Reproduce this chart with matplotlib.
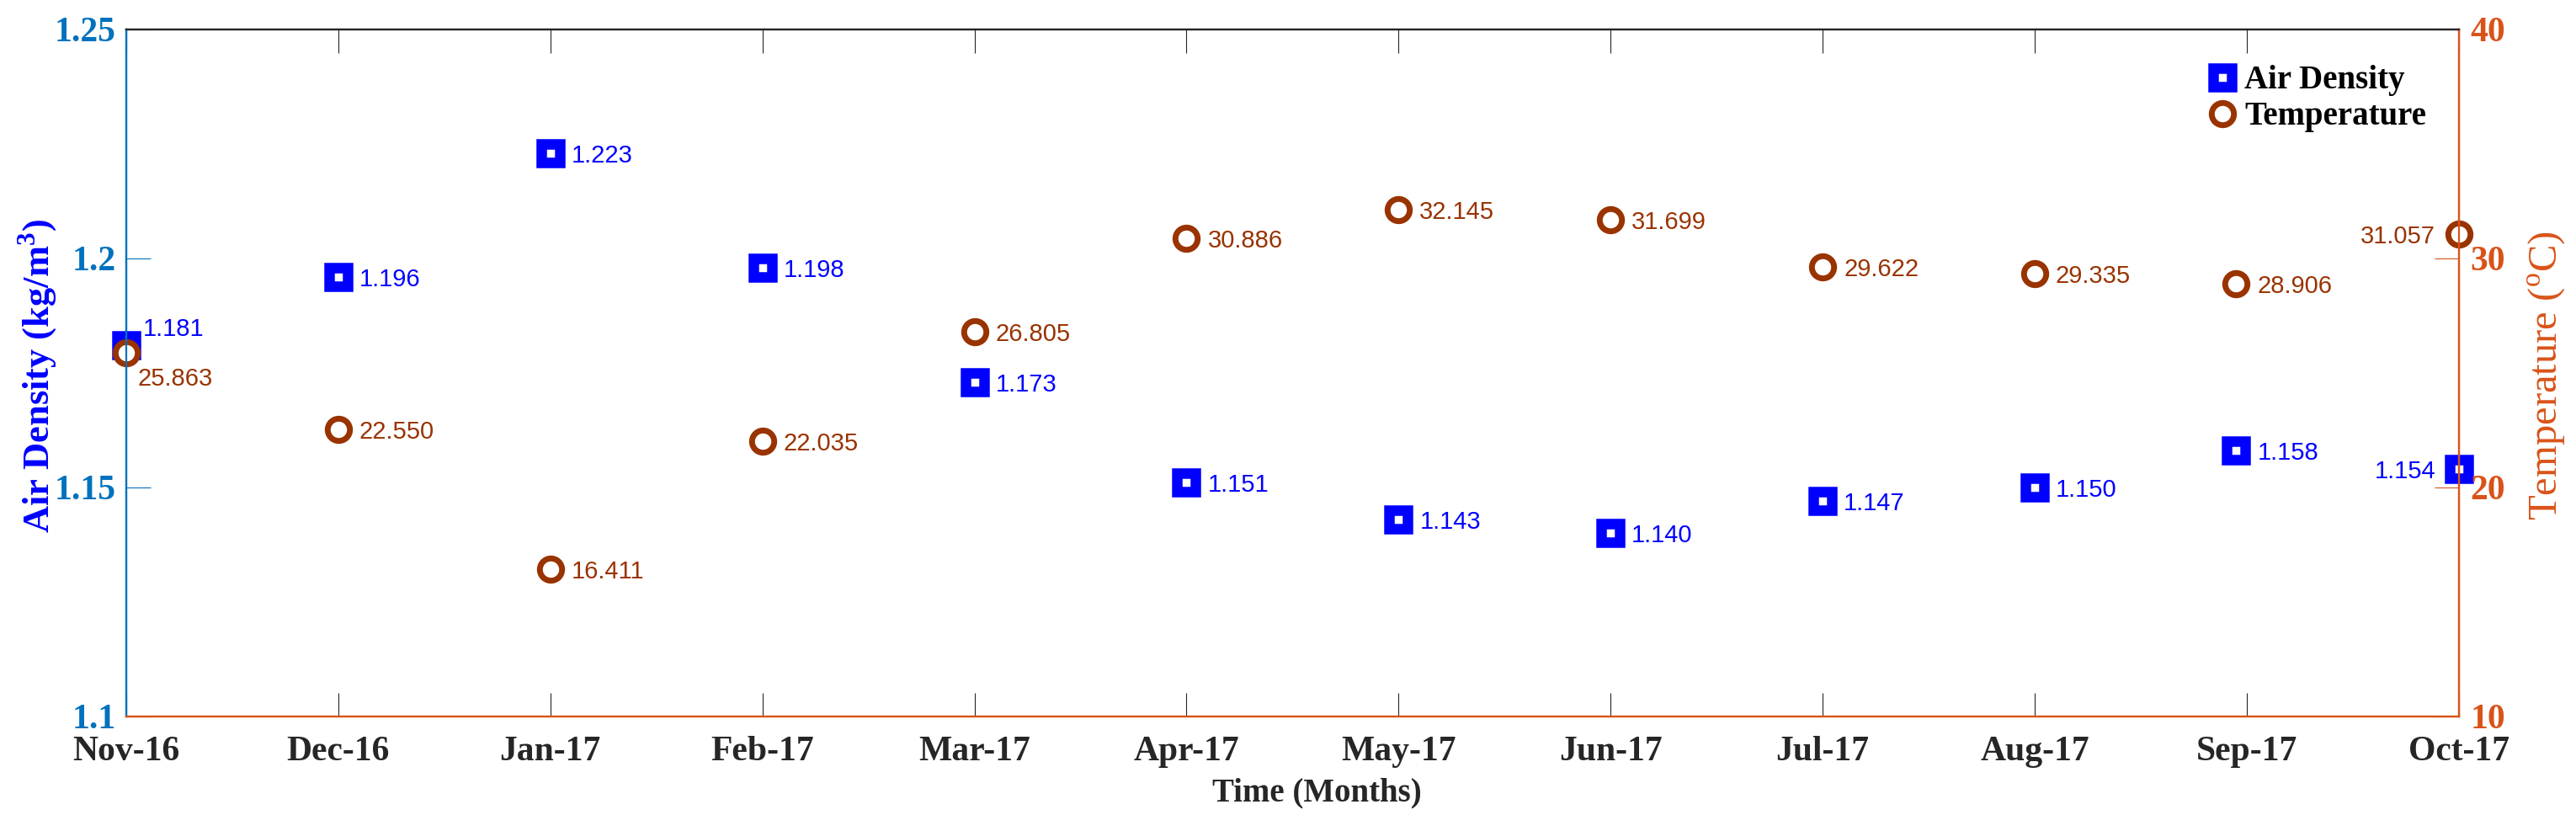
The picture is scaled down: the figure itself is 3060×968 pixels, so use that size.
import numpy as np
import matplotlib.pyplot as plt

months = ['Nov-16', 'Dec-16', 'Jan-17', 'Feb-17', 'Mar-17', 'Apr-17',
          'May-17', 'Jun-17', 'Jul-17', 'Aug-17', 'Sep-17', 'Oct-17']
# point positions along the month axis (Sep-17 sits a little before its tick)
xpos = [0, 1, 2, 3, 4, 5, 6, 7, 8, 9, 9.95, 11]
density = [1.181, 1.196, 1.223, 1.198, 1.173, 1.151,
           1.143, 1.140, 1.147, 1.150, 1.158, 1.154]
temperature = [25.863, 22.550, 16.411, 22.035, 26.805, 30.886,
               32.145, 31.699, 29.622, 29.335, 28.906, 31.057]

blue_ax = '#0072BD'
orange_ax = '#D95319'
blue = '#0000FF'
brown = '#993300'
dark = '#262626'
serif = 'Liberation Serif'
sans = 'Liberation Sans'

fig = plt.figure(figsize=(30.6, 9.68), dpi=100)
ax1 = fig.add_axes([0.049, 0.121, 0.9055, 0.843])
ax2 = ax1.twinx()

l1, = ax1.plot(xpos, density, 's', ms=16, mfc='white', mec=blue, mew=9,
               clip_on=False, label='Air Density')
l2, = ax2.plot(xpos, temperature, 'o', ms=19, mfc='white', mec=brown, mew=5,
               clip_on=False, label='Temperature')

# value labels
for i, (x, v) in enumerate(zip(xpos, density)):
    if i == 0:
        off, ha = (14.5, 16), 'left'
    elif i == len(xpos) - 1:
        off, ha = (-20, 0), 'right'
    else:
        off, ha = (18, 0), 'left'
    ax1.annotate('%.3f' % v, (x, v), xytext=off, textcoords='offset points',
                 ha=ha, va='center_baseline', color=blue, fontsize=21, family=sans,
                 annotation_clip=False)
for i, (x, v) in enumerate(zip(xpos, temperature)):
    if i == 0:
        off, ha = (9.5, -20), 'left'
    elif i == len(xpos) - 1:
        off, ha = (-20, 0), 'right'
    else:
        off, ha = (18, 0), 'left'
    ax2.annotate('%.3f' % v, (x, v), xytext=off, textcoords='offset points',
                 ha=ha, va='center_baseline', color=brown, fontsize=21, family=sans,
                 annotation_clip=False)

ax1.set_xlim(0, 11)
ax1.set_ylim(1.1, 1.25)
ax2.set_ylim(10, 40)
ax1.set_xticks(range(12))
ax1.set_xticklabels(months, fontsize=30, family=serif, fontweight='bold', color=dark)
ax1.set_yticks([1.1, 1.15, 1.2, 1.25])
ax1.set_yticklabels(['1.1', '1.15', '1.2', '1.25'], fontsize=30, family=serif,
                    fontweight='bold', color=blue_ax)
ax2.set_yticks([10, 20, 30, 40])
ax2.set_yticklabels(['10', '20', '30', '40'], fontsize=30, family=serif,
                    fontweight='bold', color=orange_ax)

ax1.tick_params(axis='x', direction='in', length=20, width=0.8, color=dark,
                top=True, pad=17)
ax1.tick_params(axis='y', direction='in', length=21, width=0.8, color=blue_ax, pad=9)
ax2.tick_params(axis='y', direction='in', length=21, width=0.8, color=orange_ax, pad=10)

for ax in (ax1, ax2):
    for s in ax.spines.values():
        s.set_linewidth(1.6)
    ax.spines['left'].set_color(blue_ax)
    ax.spines['right'].set_color(orange_ax)
    ax.spines['bottom'].set_color(orange_ax)
    ax.spines['top'].set_color(dark)

ax1.set_xlabel('Time (Months)', fontsize=28, family=serif, fontweight='bold',
               color=dark, va='center')
ax1.xaxis.set_label_coords(0.5106, -0.1115)
ax1.set_ylabel('Air Density (kg/m$^\\mathregular{3}$)', fontsize=32, family=serif,
               fontweight='bold', color=blue, va='center')
ax1.yaxis.set_label_coords(-0.0379, 0.496)
ax2.set_ylabel('Temperature ($^\\mathregular{o}$C)', fontsize=35, family=serif,
               color=orange_ax, va='center', rotation=90)
ax2.yaxis.set_label_coords(1.0375, 0.496)

leg = ax2.legend(handles=[l1, l2], loc='upper left', frameon=False,
                 prop={'family': serif, 'weight': 'bold', 'size': 28},
                 handlelength=1.0, handletextpad=0.17, labelspacing=0.15,
                 borderpad=0, borderaxespad=0, bbox_to_anchor=(0.8917, 0.948))

fig.savefig('out.png', dpi=100)
